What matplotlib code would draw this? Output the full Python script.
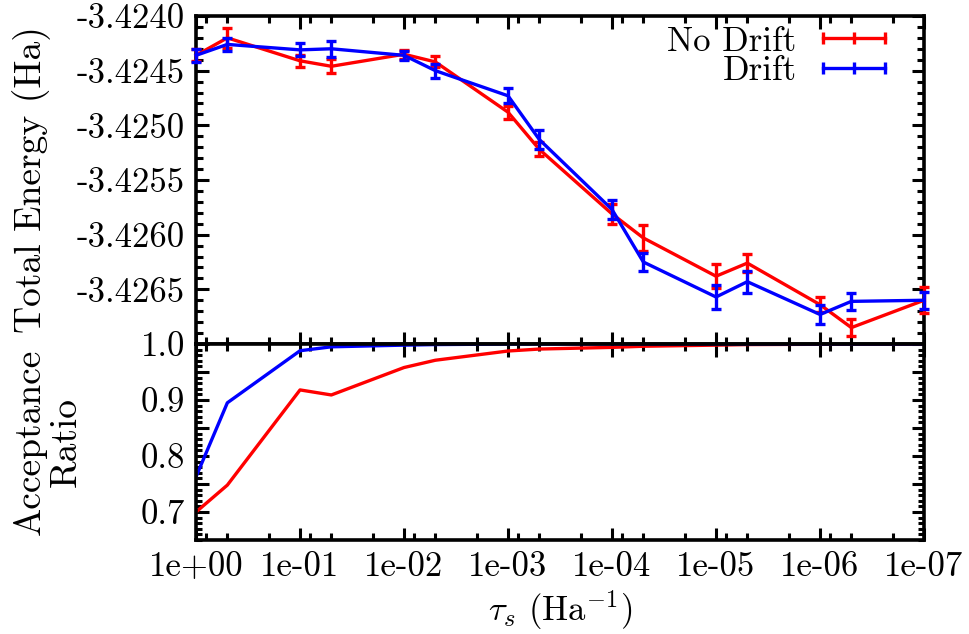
import numpy as np
import matplotlib
matplotlib.use('Agg')
from matplotlib import pyplot as plt
from matplotlib.lines import Line2D
from matplotlib.ticker import LogLocator, FixedLocator, MultipleLocator, NullFormatter

# time step tau_s (Ha^-1)
tau = [1, 5e-1, 1e-1, 5e-2, 1e-2, 5e-3, 1e-3, 5e-4, 1e-4, 5e-5, 1e-5, 5e-6, 1e-6, 5e-7, 1e-7]

# total energy (Ha) with error bars
e_nodrift = [-3.42436, -3.42420, -3.42441, -3.42446, -3.42435, -3.42442, -3.42488, -3.42522,
             -3.42581, -3.42603, -3.42638, -3.42626, -3.42664, -3.42685, -3.42660]
err_nodrift = [5.5e-5, 9e-5, 5.5e-5, 6.5e-5, 4e-5, 5e-5, 6e-5, 6.5e-5,
               9e-5, 1.2e-4, 1.1e-4, 8e-5, 7e-5, 8e-5, 1.2e-4]
e_drift = [-3.42436, -3.42426, -3.42431, -3.42430, -3.42436, -3.42450, -3.42473, -3.42513,
           -3.42577, -3.42625, -3.42657, -3.42643, -3.42673, -3.42661, -3.42660]
err_drift = [6e-5, 6e-5, 6e-5, 7.5e-5, 4e-5, 6.5e-5, 7e-5, 8.5e-5,
             8.5e-5, 8.5e-5, 1.1e-4, 1e-4, 9e-5, 8e-5, 8e-5]

# acceptance ratio
acc_nodrift = [0.700, 0.748, 0.918, 0.909, 0.958, 0.971, 0.9875, 0.991,
               0.994, 0.996, 0.998, 0.999, 0.9995, 0.9997, 0.9999]
acc_drift = [0.763, 0.895, 0.988, 0.995, 0.998, 0.999, 0.9999, 1.0,
             1.0, 1.0, 1.0, 1.0, 1.0, 1.0, 1.0]

xticks = [1e0, 1e-1, 1e-2, 1e-3, 1e-4, 1e-5, 1e-6, 1e-7]
xticklabels = ['1e+00', '1e-01', '1e-02', '1e-03', '1e-04', '1e-05', '1e-06', '1e-07']
eticks = [-3.4265, -3.4260, -3.4255, -3.4250, -3.4245, -3.4240]
eticklabels = ['-3.4265', '-3.4260', '-3.4255', '-3.4250', '-3.4245', '-3.4240']
aticks = [0.7, 0.8, 0.9, 1.0]
aticklabels = ['0.7', '0.8', '0.9', '1.0']

plt.rcParams['font.family'] = ['cmr10', 'DejaVu Serif']
plt.rcParams['mathtext.fontset'] = 'cm'
plt.rcParams['font.size'] = 25
plt.rcParams['axes.linewidth'] = 2.6

fig = plt.figure(figsize=(9.7, 6.34), dpi=100)
ax1 = fig.add_axes([0.2021, 0.4574, 0.7505, 0.5174])
ax2 = fig.add_axes([0.2021, 0.1483, 0.7505, 0.3091])

red = '#ff0000'
blue = '#0000ff'

ax1.errorbar(tau, e_nodrift, yerr=err_nodrift, color=red, lw=2.4, elinewidth=2.4,
             capsize=3.5, capthick=2.4, clip_on=False, zorder=3)
ax1.errorbar(tau, e_drift, yerr=err_drift, color=blue, lw=2.4, elinewidth=2.4,
             capsize=3.5, capthick=2.4, clip_on=False, zorder=4)

ax2.plot(tau, acc_nodrift, color=red, lw=2.4)
ax2.plot(tau, acc_drift, color=blue, lw=2.4)

for ax in (ax1, ax2):
    ax.set_xscale('log')
    ax.set_xlim(1, 1e-7)
    ax.xaxis.set_major_locator(FixedLocator(xticks))
    ax.xaxis.set_minor_locator(LogLocator(base=10, subs=(2, 5, 8), numticks=20))
    ax.xaxis.set_minor_formatter(NullFormatter())
    ax.tick_params(which='both', direction='in', top=True, right=True, width=2.2)
    ax.tick_params(which='major', length=9, pad=8)
    ax.tick_params(which='minor', length=5)

ax1.set_ylim(-3.4270, -3.4240)
ax1.set_yticks(eticks)
ax1.set_yticklabels(eticklabels)
ax1.yaxis.set_minor_locator(MultipleLocator(0.0001))
ax1.set_xticklabels([])
ax1.set_ylabel('Total Energy (Ha)', fontsize=27)
ax1.yaxis.set_label_coords(-0.199, 0.5)

ax2.set_ylim(0.65, 1.0)
ax2.set_yticks(aticks + [0.75, 0.85, 0.95])
ax2.set_yticklabels(aticklabels + ['', '', ''])
ax2.yaxis.set_minor_locator(MultipleLocator(0.01))
ax2.tick_params(axis='y', which='minor', length=4)
ax2.set_xticks(xticks)
ax2.set_xticklabels(xticklabels)
ax2.set_ylabel('Acceptance\nRatio', fontsize=27, linespacing=1.12)
ax2.yaxis.set_label_coords(-0.155, 0.5)
ax2.set_xlabel(r'$\tau_s$ (Ha$^{-1}$)', labelpad=4)

handles = [Line2D([], [], color=red, lw=2.4, marker='|', ms=9, mew=2.4),
           Line2D([], [], color=blue, lw=2.4, marker='|', ms=9, mew=2.4)]
ax1.legend(handles, ['No Drift', 'Drift'], loc='upper right', frameon=False,
           markerfirst=False, numpoints=3, handlelength=2.4, handletextpad=0.45,
           labelspacing=-0.05, borderaxespad=0.0, bbox_to_anchor=(0.98, 1.012))

fig.savefig('out.png', dpi=100)
